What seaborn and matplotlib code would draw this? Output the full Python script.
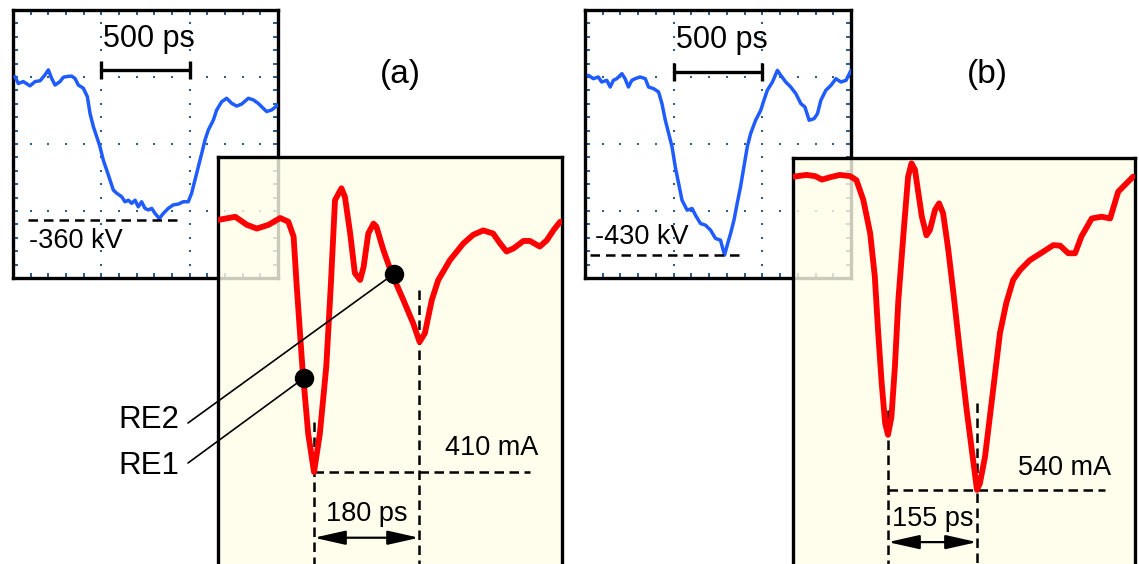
import numpy as np
import matplotlib
matplotlib.use("Agg")
import matplotlib.pyplot as plt
import seaborn as sns

# ---------------- data ----------------
# scope traces: time in ps, voltage in kV
scope_a_time = [11, 30, 58, 96, 125, 153, 181, 200, 219, 238,
                266, 285, 304, 332, 351, 370, 398, 421, 436, 455,
                474, 492, 511, 530, 549, 568, 587, 615, 634, 653,
                672, 691, 709, 728, 747, 766, 785, 804, 828, 851,
                879, 907, 936, 964, 992, 1011, 1030, 1049, 1068, 1087,
                1105, 1134, 1153, 1181, 1209, 1238, 1266, 1294, 1332, 1360,
                1388, 1417, 1436, 1464, 1500]
scope_a_kv = [9, -9, -4, -15, -4, -2, 13, 26, 4, -13,
              -4, 7, 9, 10, 4, -13, -21, -43, -86, -120,
              -146, -171, -206, -231, -257, -283, -291, -300, -313, -309,
              -317, -309, -326, -313, -330, -334, -330, -343, -356, -343,
              -330, -321, -319, -313, -313, -291, -257, -223, -189, -154,
              -129, -103, -77, -56, -47, -60, -67, -62, -47, -51,
              -60, -73, -81, -77, -64]

scope_b_time = [19, 47, 75, 94, 123, 142, 160, 179, 208, 226,
                245, 264, 283, 311, 340, 358, 387, 415, 434, 453,
                472, 491, 509, 528, 547, 576, 604, 623, 651, 679,
                708, 736, 764, 787, 802, 821, 840, 858, 877, 896,
                915, 934, 962, 991, 1009, 1028, 1057, 1085, 1104, 1132,
                1160, 1189, 1217, 1240, 1264, 1292, 1311, 1330, 1358, 1387,
                1415, 1443, 1472, 1500]
scope_b_kv = [2, -6, -2, -14, -10, -26, -10, -6, 6, -6,
              -26, -10, -6, -2, -6, -26, -30, -38, -66, -106,
              -138, -170, -218, -258, -298, -322, -318, -334, -354, -358,
              -370, -390, -394, -430, -406, -378, -346, -306, -266, -218,
              -170, -138, -106, -82, -58, -34, -14, 14, 2, -14,
              -26, -42, -66, -74, -106, -102, -90, -58, -34, -22,
              -6, -14, -10, 14]

# current traces: time in ps (0 at first minimum), current in mA
cur_a_time = [-164, -135, -115, -98, -78, -58, -44, -35, -30, -20,
              -10, 0, 10, 21, 29, 36, 47, 53, 62, 70,
              79, 85, 93, 102, 107, 119, 133, 153, 170, 181,
              190, 202, 213, 233, 256, 273, 290, 307, 319, 330,
              342, 359, 370, 387, 399, 411, 422]
cur_a_ma = [-3, 2, -11, -17, -11, 0, -6, -30, -105, -240,
            -348, -410, -348, -240, -105, 29, 48, 34, -25, -89,
            -100, -79, -25, -9, -14, -52, -89, -132, -170, -200,
            -186, -132, -100, -68, -41, -27, -20, -25, -41, -54,
            -49, -37, -37, -46, -36, -19, -6]

cur_b_time = [-165, -142, -127, -115, -101, -84, -66, -55, -43, -31,
              -23, -17, -11, -5, 0, 6, 12, 18, 27, 35,
              41, 47, 53, 59, 67, 73, 82, 89, 96, 105,
              114, 125, 137, 146, 155, 160, 169, 181, 195, 206,
              218, 230, 247, 271, 288, 300, 314, 326, 337, 355,
              372, 387, 401, 416, 427]
cur_b_ma = [0, 3, 1, -5, -1, 3, 1, -6, -40, -98,
            -172, -270, -356, -425, -445, -414, -328, -213, -98, 0,
            23, 12, -29, -69, -101, -92, -57, -46, -63, -126,
            -201, -299, -402, -471, -540, -529, -483, -385, -270, -218,
            -178, -161, -144, -129, -118, -119, -132, -132, -103, -72,
            -69, -72, -26, -11, 0]

# annotation values
panel_labels = ["(a)", "(b)"]
scale_bar_ps = 500
peak_kv = [-360, -430]
peak_ma = [410, 540]
delay_ps = [180, 155]
re_labels = ["RE2", "RE1"]
re_points = [(137, -90), (-17, -258)]   # (ps, mA) on trace (a)

# ---------------- style ----------------
sns.set_style("white")
plt.rcParams["font.family"] = ["Liberation Sans", "DejaVu Sans"]
plt.rcParams["text.color"] = "black"

W, H = 1139, 564
BLUE = "#1f5cff"
RED = "#ff0000"
GRID = "#2a5d8c"
YELLOW = (1.0, 0.992, 0.91, 0.80)
FS = 19.5

fig = plt.figure(figsize=(W / 100, H / 100), dpi=100)


def px_axes(x0, y0, x1, y1):
    return fig.add_axes([x0 / W, 1 - y1 / H, (x1 - x0) / W, (y1 - y0) / H])


def scope(ax, t, v, ylim, peak, dash_t, txt_t, txt_v, sb_v, sbt_v):
    xlim = (0, 1500)
    ax.set_xlim(*xlim)
    ax.set_ylim(*ylim)
    ax.set_facecolor("white")
    xmaj = np.linspace(xlim[0], xlim[1], 4)
    ymaj = np.linspace(ylim[0], ylim[1], 5)
    xmin = np.linspace(xlim[0], xlim[1], 16)
    ymin = np.linspace(ylim[0], ylim[1], 21)
    ax.set_xticks(xmin)
    ax.set_yticks(ymin)
    ax.tick_params(direction="in", length=3.5, width=1.4, color=GRID,
                   top=True, right=True, bottom=True, left=True,
                   labelbottom=False, labelleft=False)
    for x in xmaj[1:-1]:
        ax.scatter(np.full(len(ymin), x), ymin, s=4, marker="s", color=GRID, lw=0, zorder=1)
    for y in ymaj[1:-1]:
        ax.scatter(xmin, np.full(len(xmin), y), s=4, marker="s", color=GRID, lw=0, zorder=1)
    for sp in ax.spines.values():
        sp.set_color("black")
        sp.set_linewidth(2.4)
    sns.lineplot(x=t, y=v, ax=ax, color=BLUE, lw=2.5, estimator=None, legend=False,
                 zorder=3, solid_joinstyle="round")
    ax.set_xlabel("")
    ax.set_ylabel("")
    # peak level
    ax.plot(dash_t, [peak, peak], color="black", lw=1.8, ls=(0, (3.8, 2.4)), zorder=4)
    ax.text(txt_t, txt_v, f"{peak} kV", fontsize=FS, ha="left", va="center", zorder=5)
    # scale bar
    ax.plot([scale_bar_ps, 2 * scale_bar_ps], [sb_v, sb_v], color="black", lw=2.4,
            marker="|", markersize=13, markeredgewidth=2.4, zorder=5)
    ax.text(1.5 * scale_bar_ps + 20, sbt_v, f"{scale_bar_ps} ps", fontsize=22,
            ha="center", va="center", zorder=5)


def current(ax, t, i, xlim, ylim, t1, peak, dash1, dash2, hdash_end, arrow_i,
            dt_txt, ma_txt):
    ax.set_xlim(*xlim)
    ax.set_ylim(*ylim)
    ax.set_facecolor(YELLOW)
    ax.set_xticks([])
    ax.set_yticks([])
    for sp in ax.spines.values():
        sp.set_color("black")
        sp.set_linewidth(2.4)
    dash = (0, (3.8, 2.2))
    ax.plot([0, 0], [dash1, ylim[0]], color="black", lw=1.8, ls=dash, zorder=2)
    ax.plot([t1, t1], [dash2, ylim[0]], color="black", lw=1.8, ls=dash, zorder=2)
    x0 = 0 if peak == min(i) else t1
    ax.plot([x0, hdash_end], [peak, peak], color="black", lw=1.8, ls=dash, zorder=2)
    sns.lineplot(x=t, y=i, ax=ax, color=RED, lw=4.2, estimator=None, legend=False,
                 zorder=3, solid_joinstyle="round", solid_capstyle="round")
    ax.set_xlabel("")
    ax.set_ylabel("")
    ax.annotate("", xy=(0, arrow_i), xytext=(t1, arrow_i),
                arrowprops=dict(arrowstyle="<|-|>,head_length=0.8,head_width=0.18",
                                color="black", lw=1.6,
                                mutation_scale=24, shrinkA=0, shrinkB=0), zorder=4)
    ax.text(dt_txt[0], dt_txt[1], f"{t1} ps", fontsize=FS, ha="center", va="center", zorder=5)
    ax.text(ma_txt[0], ma_txt[1], f"{-peak} mA", fontsize=FS, ha="center", va="center", zorder=5)


# ---- panel (a) ----
ax_sa = px_axes(13, 10, 278, 278)
scope(ax_sa, scope_a_time, scope_a_kv, (-509, 180), peak_kv[0],
      dash_t=[85, 945], txt_t=90, txt_v=-414, sb_v=26, sbt_v=105)

ax_ca = px_axes(218, 157, 562, 600)
current(ax_ca, cur_a_time, cur_a_ma, (-164.6, 425.1), (-616.5, 98.5),
        delay_ps[0], -peak_ma[0], dash1=-329, dash2=-116, hdash_end=370,
        arrow_i=-516, dt_txt=(91, -478), ma_txt=(305, -371))

for (lbl, pt, ytxt, yline) in zip(re_labels, re_points, [420, 466], [423, 463]):
    ax_ca.plot([pt[0]], [pt[1]], marker="o", markersize=13, color="black", zorder=6)
    ann = ax_ca.annotate("", xy=pt, xycoords="data", xytext=(188, H - yline),
                         textcoords="figure pixels",
                         arrowprops=dict(arrowstyle="-", color="black", lw=1.2,
                                         shrinkA=0, shrinkB=0),
                         annotation_clip=False, zorder=5)
    ann.arrow_patch.set_clip_on(False)
    fig.text(118 / W, 1 - ytxt / H, lbl, fontsize=22.5, ha="left", va="center")

# ---- panel (b) ----
ax_sb = px_axes(585, 10, 851, 278)
scope(ax_sb, scope_b_time, scope_b_kv, (-485, 159), peak_kv[1],
      dash_t=[28, 889], txt_t=55, txt_v=-386, sb_v=10, sbt_v=88)

ax_cb = px_axes(793, 158, 1135, 600)
current(ax_cb, cur_b_time, cur_b_ma, (-165.5, 430.3), (-729.8, 32.2),
        delay_ps[1], -peak_ma[1], dash1=-402, dash2=-390, hdash_end=378,
        arrow_i=-630, dt_txt=(78, -590), ma_txt=(308, -502))

fig.text(400 / W, 1 - 75 / H, panel_labels[0], fontsize=24, ha="center", va="center")
fig.text(987 / W, 1 - 75 / H, panel_labels[1], fontsize=24, ha="center", va="center")

fig.savefig("out.png", dpi=100)
